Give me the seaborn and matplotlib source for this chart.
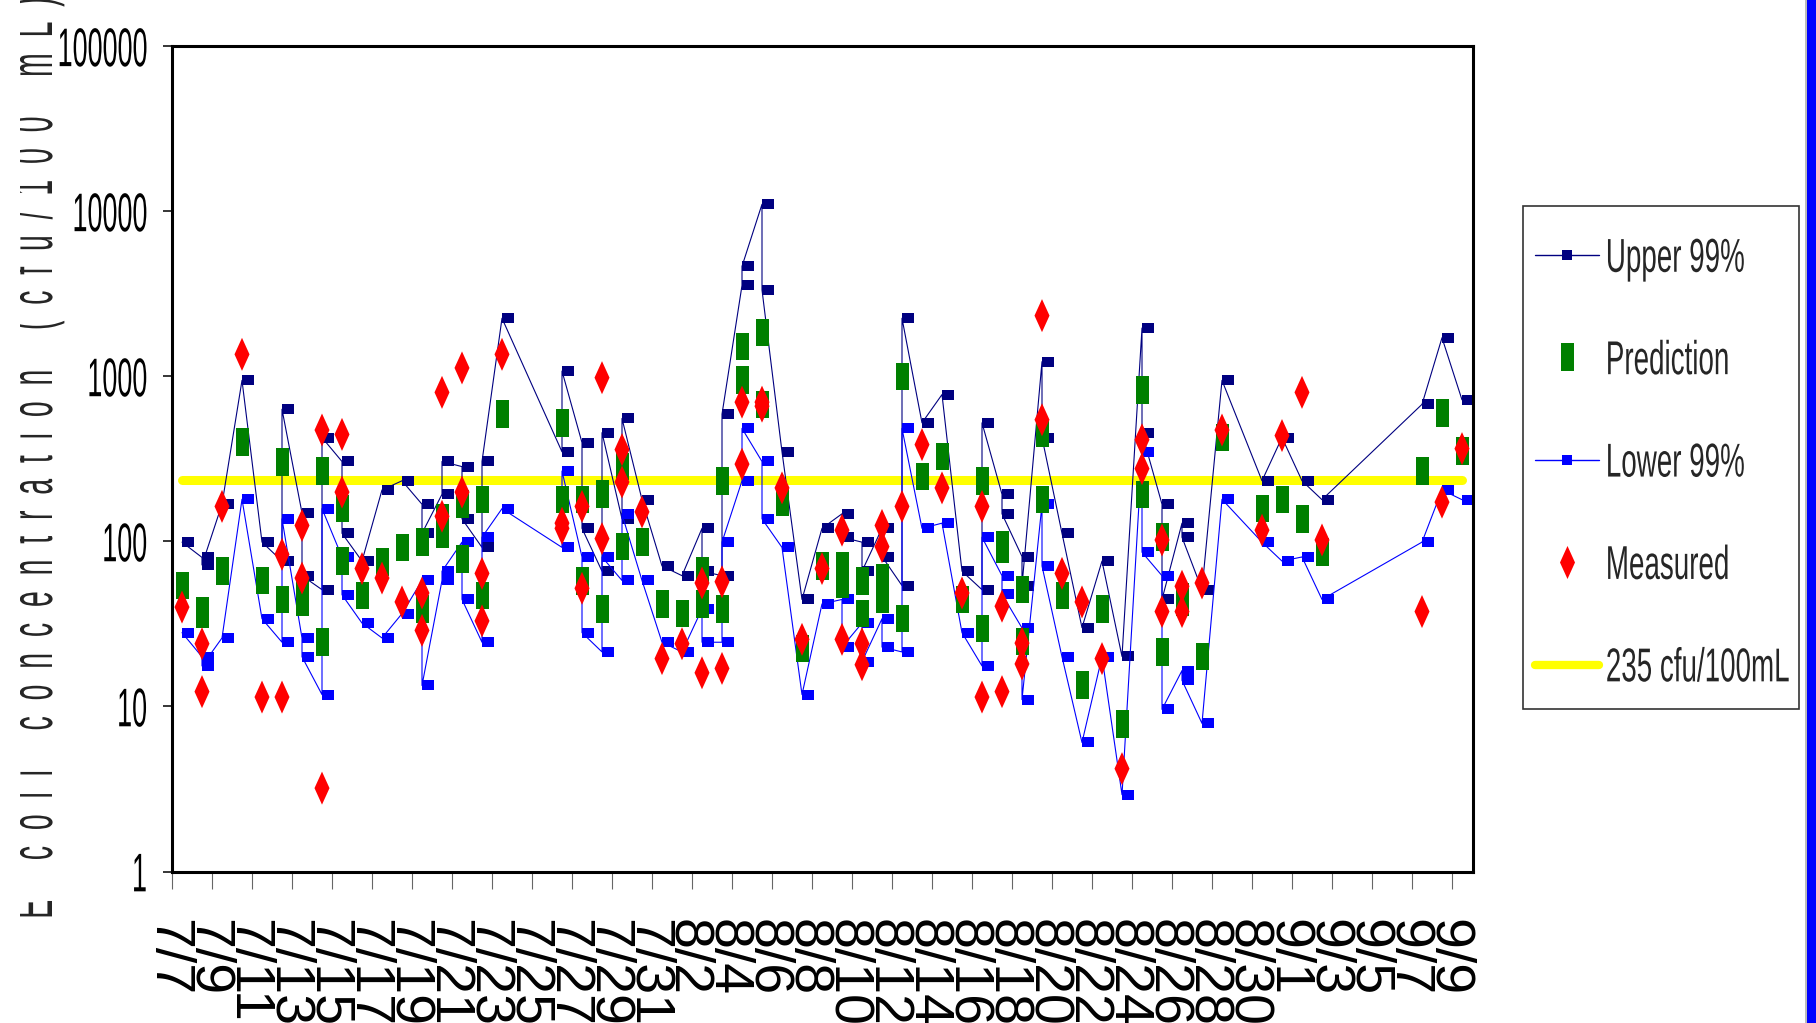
import pandas as pd
import matplotlib
matplotlib.use("Agg")
import matplotlib.pyplot as plt
from matplotlib import patheffects
from matplotlib.path import Path
from matplotlib.markers import MarkerStyle
from matplotlib.lines import Line2D
from matplotlib.patches import Rectangle
from matplotlib.ticker import NullLocator
from matplotlib.transforms import ScaledTranslation, Affine2D, Bbox, TransformedBbox
import seaborn as sns

# Sample rows - several beaches / samples on the same day give repeated dates
sample_date = ["7/7", "7/8", "7/8", "7/9", "7/10", "7/11", "7/12", "7/12", "7/13", "7/13",
               "7/14", "7/14", "7/15", "7/15", "7/16", "7/17", "7/18", "7/19", "7/19", "7/20",
               "7/20", "7/21", "7/21", "7/22", "7/22", "7/23", "7/26", "7/26", "7/27", "7/27",
               "7/28", "7/28", "7/29", "7/29", "7/30", "7/31", "8/1", "8/2", "8/2", "8/3",
               "8/3", "8/4", "8/4", "8/5", "8/5", "8/6", "8/7", "8/8", "8/9", "8/9",
               "8/10", "8/10", "8/11", "8/11", "8/12", "8/12", "8/13", "8/14", "8/15", "8/16",
               "8/16", "8/17", "8/17", "8/18", "8/18", "8/19", "8/19", "8/20", "8/21", "8/22",
               "8/23", "8/24", "8/24", "8/25", "8/25", "8/26", "8/26", "8/27", "8/28", "8/30",
               "8/31", "9/1", "9/2", "9/7", "9/8", "9/9"]
upper = [99, 80, 72, 168, 946, 99, 76, 632, 149, 62,
         51, 426, 305, 112, 76, 205, 233, 168, 112, 193,
         305, 284, 137, 92, 305, 2250, 349, 1077, 397, 120,
         66, 456, 137, 556, 179, 71, 62, 120, 66, 62,
         590, 3556, 4645, 11040, 3342, 349, 44.5, 120, 147, 106,
         99, 66, 120, 81, 54, 2250, 523, 776, 66, 51,
         523, 193, 147, 81, 54, 1228, 426, 112, 30, 76,
         20.1, 1963, 453, 168, 44.5, 129, 106, 51, 946, 233,
         426, 233, 179, 677, 1714, 721]
prediction = [54, 38, 36, 66, 400, 58, 44.5, 303, 50, 43,
              24.5, 267, 158, 76, 47, 75, 92, 99, 39, 110,
              140, 168, 78, 47, 179, 590, 179, 523, 179, 57.6,
              39, 194, 93, 284, 99, 41.8, 36.5, 66.5, 41.8, 39,
              233, 951, 1514, 1845, 677, 173, 22.5, 71, 71, 55,
              57.6, 36.5, 60, 44.5, 34, 1000, 248, 326, 44.5, 29.7,
              233, 96, 90, 51, 24.7, 453, 179, 47, 13.5, 39,
              7.85, 829, 193, 106, 21.4, 46, 43, 20.1, 426, 158,
              179, 137, 86, 267, 599, 353]
lower = [28, 20, 17.6, 26, 180, 34, 24.5, 137, 26, 20,
         11.8, 158, 80.5, 47.5, 32, 26, 36.5, 58, 13.4, 58,
         66, 99, 44.5, 24.5, 106, 158, 92, 267, 80.5, 28,
         21.4, 80.5, 58, 146, 58, 24.5, 21.4, 39, 24.5, 24.5,
         99, 233, 484, 305, 137, 92, 11.8, 41.8, 44.5, 22.9,
         32, 18.7, 34, 22.9, 21.4, 484, 120, 129, 28, 17.6,
         106, 62, 47.9, 29.9, 11, 168, 71, 20, 6.05, 20,
         2.92, 349, 86, 62, 9.6, 16.5, 14.4, 7.9, 180, 99,
         76, 80.5, 44.5, 99, 205, 179]
measured = [40, 24, 12.3, 163, 1360, 11.4, 11.4, 83.5, 125, 60,
            3.2, 473, 445, 199, 68.5, 60, 43, 48.7, 28.9, 142,
            800, 1125, 199, 33, 64, 1360, 120, 129, 163, 52,
            104, 982, 229, 360, 151, 19.5, 24, 56, 16, 17,
            57, 294, 698, 698, 660, 211, 25.5, 68.5, 117, 25.5,
            24, 17.9, 125, 93, None, 163, 386, 211, 48.7, 11.4,
            163, 40.5, 12.3, 24.2, 18.1, 546, 2334, 64, 43, 19.5,
            4.2, 413, 276, 102, 37.6, 53.5, 37.6, 56, 473, 117,
            438, 800, 102, 37.6, 173, 365]
threshold = 235

tick_labels = ["7/7", "7/9", "7/11", "7/13", "7/15", "7/17", "7/19", "7/21", "7/23", "7/25",
               "7/27", "7/29", "7/31", "8/2", "8/4", "8/6", "8/8", "8/10", "8/12", "8/14",
               "8/16", "8/18", "8/20", "8/22", "8/24", "8/26", "8/28", "8/30", "9/1", "9/3",
               "9/5", "9/7", "9/9"]
y_ticks = [1, 10, 100, 1000, 10000, 100000]
y_title = "E coli concentration (cfu/100 mL)"

legend_labels = ["Upper 99%", "Prediction", "Lower 99%", "Measured", "235 cfu/100mL"]


def day_number(s):
    m, d = s.split("/")
    return (pd.Timestamp(2004, int(m), int(d)) - pd.Timestamp(2004, 7, 7)).days


df = pd.DataFrame({"date": sample_date, "upper": upper, "prediction": prediction,
                   "lower": lower, "measured": measured})
df["measured"] = pd.to_numeric(df["measured"])
df["day"] = [day_number(s) for s in df["date"]]
tick_pos = [day_number(s) - 0.5 for s in tick_labels]


# tall, narrow glyphs like the Excel output: the text stays real text,
# the glyph outlines are only stretched across the writing direction
class Stretch(patheffects.AbstractPathEffect):
    def __init__(self, sy, y0=35.8):
        super().__init__()
        self.sy = sy
        self.y0 = y0  # in text-path units (em = 100), 35.8 = middle of a capital

    def draw_path(self, renderer, gc, tpath, affine, rgbFace=None):
        t = Affine2D().translate(0, -self.y0).scale(1, self.sy).translate(0, self.y0)
        renderer.draw_path(gc, tpath, t + affine, rgbFace)


sns.set_style("white")
plt.rcParams["font.family"] = ["Liberation Sans", "DejaVu Sans"]

navy, blue, green, red, yellow = "#000080", "#0000FF", "#008000", "#FF0000", "#FFFF00"

# marker shapes (Excel style)
dash = MarkerStyle(Path([(0, -4.5), (12, -4.5), (12, 4.5), (0, 4.5), (0, -4.5)], closed=True))
box = MarkerStyle(Path([(-6.5, -13.75), (6.5, -13.75), (6.5, 13.75), (-6.5, 13.75), (-6.5, -13.75)], closed=True))
diamond = MarkerStyle(Path([(0, -16.5), (7.5, 0), (0, 16.5), (-7.5, 0), (0, -16.5)], closed=True))

W, H = 1816, 1023
fig = plt.figure(figsize=(W / 100, H / 100), dpi=100)
ax = fig.add_axes([172 / W, 1 - 871.5 / H, (1473 - 172) / W, (871.5 - 46.3) / H])

# threshold line
sns.lineplot(x=[df["day"].min(), df["day"].max()], y=[threshold, threshold], color=yellow,
             linewidth=6.5, solid_capstyle="round", ax=ax, zorder=1.5, legend=False)

sns.lineplot(data=df, x="day", y="upper", estimator=None, sort=False, color=navy,
             linewidth=0.8, marker=dash, markersize=17.3, markeredgewidth=0, ax=ax, zorder=2)
sns.lineplot(data=df, x="day", y="lower", estimator=None, sort=False, color=blue,
             linewidth=0.8, marker=dash, markersize=17.3, markeredgewidth=0, ax=ax, zorder=2)
sns.scatterplot(data=df, x="day", y="prediction", marker=box, s=19.8 ** 2, color=green,
                linewidth=0, edgecolor="none", ax=ax, zorder=3, legend=False)
sns.scatterplot(data=df, x="day", y="measured", marker=diamond, s=23.8 ** 2, color=red,
                linewidth=0, edgecolor="none", ax=ax, zorder=3.5, legend=False)

ax.set_yscale("log")
ax.set_ylim(1, 100000)
ax.set_xlim(-0.5, df["day"].max() + 0.55)
ax.set_yticks(y_ticks)
ax.set_yticklabels([str(v) for v in y_ticks])
ax.yaxis.set_minor_locator(NullLocator())
ax.set_xticks(tick_pos)
ax.set_xticklabels(tick_labels, rotation=-90, fontsize=40, ha="center", va="top")
ax.set_xlabel("")
ax.set_ylabel("")
ax.tick_params(axis="y", direction="out", length=6.5, width=1.1, pad=11.5,
               labelsize=19.4, colors="black", left=True)
ax.tick_params(axis="x", direction="out", length=12, width=0.8, color="#666666",
               pad=22, labelcolor="black", bottom=True)
shift = ScaledTranslation(-5 / 100, 0, fig.dpi_scale_trans)
for lbl in ax.get_xticklabels():
    lbl.set_transform(lbl.get_transform() + shift)
for lbl in ax.get_yticklabels():
    lbl.set_path_effects([Stretch(2.02)])
for s in ax.spines.values():
    s.set_visible(True)
    s.set_color("black")
    s.set_linewidth(2.2)

# axis title: wide letter spacing, tall glyphs, clipped at the left
spaced = "     ".join("  ".join(w) for w in y_title.split(" "))
title = fig.text(58 / W, 1 - 459 / H, spaced, rotation=90, ha="right", va="center",
                 fontsize=20.5)
title.set_path_effects([Stretch(2.1, y0=0)])
title.set_clip_box(TransformedBbox(Bbox([[20 / W, 0], [1, 1]]), fig.transFigure))
title.set_clip_on(True)

# legend
handles = [
    Line2D([], [], color=navy, lw=1, marker="s", ms=6.5, mew=0),
    Line2D([], [], ls="none", marker=box, ms=19.8, color=green, mew=0),
    Line2D([], [], color=blue, lw=1, marker="s", ms=6.5, mew=0),
    Line2D([], [], ls="none", marker=diamond, ms=23.8, color=red, mew=0),
    Line2D([], [], color=yellow, lw=6, solid_capstyle="round"),
]
leg = fig.legend(handles, legend_labels, loc="center left",
                 bbox_to_anchor=(1535 / W, 1 - 462.5 / H), bbox_transform=fig.transFigure,
                 frameon=False, fontsize=20, handlelength=2.3, handletextpad=0.25,
                 labelspacing=2.75, borderpad=0, borderaxespad=0, numpoints=1)
for t in leg.get_texts():
    t.set_path_effects([Stretch(1.71)])
fig.add_artist(Rectangle((1523 / W, 1 - 709 / H), 276 / W, 503 / H, transform=fig.transFigure,
                         fill=False, edgecolor="#333333", linewidth=1.2))

# blue strip on the right edge
fig.add_artist(Rectangle((1805 / W, 0), 2 / W, 1, transform=fig.transFigure,
                         color="#BBBBBB", lw=0))
fig.add_artist(Rectangle((1807 / W, 0), 9 / W, 1, transform=fig.transFigure,
                         color=blue, lw=0))

fig.savefig("out.png", dpi=100)
